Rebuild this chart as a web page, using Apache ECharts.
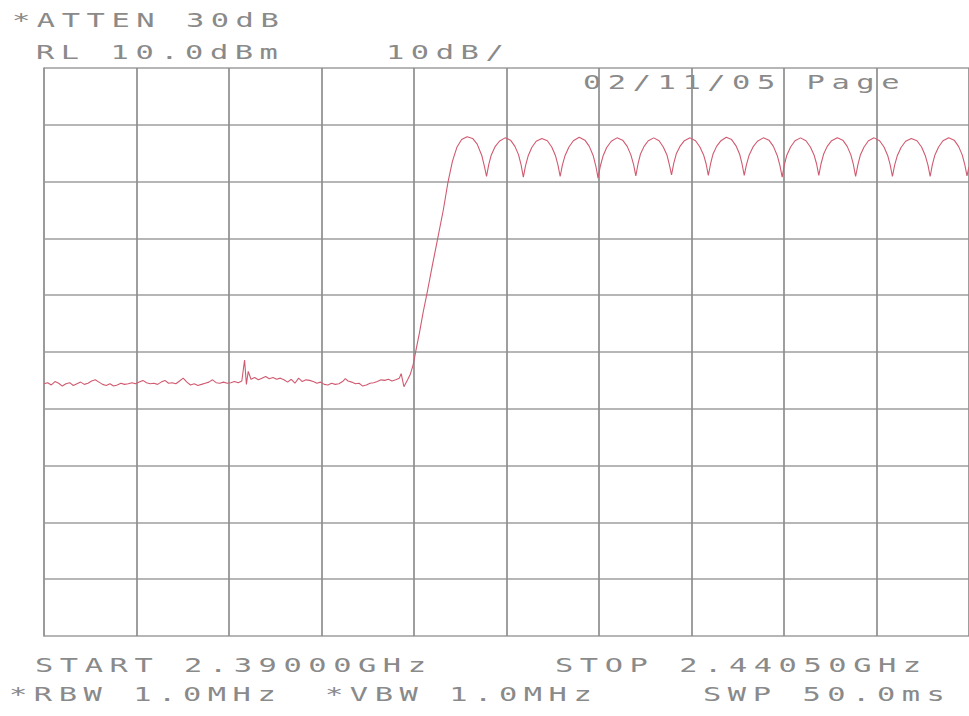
<!DOCTYPE html>
<html>
<head>
<meta charset="utf-8">
<script src="https://cdn.jsdelivr.net/npm/echarts@6/dist/echarts.min.js"></script>
<style>
  html, body { margin: 0; padding: 0; background: #ffffff; }
  #chart { width: 969px; height: 716px; }
  #chart text { letter-spacing: 4.1px; }
</style>
</head>
<body>
<div id="chart"></div>
<script>
// ---- Data (frequency MHz, level dBm) ----
const noiseFloor = [
  [2390.0,-45.6],[2390.2,-45.4],[2390.4,-45.8],[2390.6,-45.2],[2390.8,-45.5],[2391.0,-46.0],
  [2391.2,-45.6],[2391.4,-45.4],[2391.6,-45.9],[2391.8,-45.6],[2392.0,-45.3],[2392.2,-45.7],
  [2392.4,-45.5],[2392.6,-45.1],[2392.8,-44.9],[2393.0,-45.3],[2393.2,-45.7],[2393.4,-45.9],
  [2393.6,-45.6],[2393.8,-46.0],[2394.0,-45.8],[2394.2,-45.5],[2394.4,-45.7],[2394.6,-45.6],
  [2394.8,-45.4],[2395.0,-45.6],[2395.2,-45.3],[2395.4,-45.0],[2395.6,-45.4],[2395.8,-45.6],
  [2396.0,-45.5],[2396.2,-45.7],[2396.4,-45.3],[2396.6,-45.0],[2396.8,-45.5],[2397.0,-45.4],
  [2397.2,-45.6],[2397.4,-45.1],[2397.6,-44.6],[2397.8,-45.3],[2398.0,-45.8],[2398.2,-45.6],
  [2398.4,-45.9],[2398.6,-45.7],[2398.8,-45.5],[2399.0,-45.3],[2399.2,-44.9],[2399.4,-45.4],
  [2399.6,-45.5],[2399.8,-45.3],[2400.0,-45.5],[2400.2,-45.4],[2400.4,-45.2],[2400.6,-45.4],
  [2400.8,-45.1],[2400.95,-41.4],[2401.05,-45.7],[2401.15,-43.4],[2401.3,-44.8],[2401.5,-44.5],
  [2401.7,-44.9],[2401.9,-44.6],[2402.1,-44.3],[2402.3,-44.7],[2402.5,-44.5],[2402.7,-44.8],
  [2402.9,-44.6],[2403.1,-44.9],[2403.3,-45.3],[2403.5,-44.8],[2403.7,-45.5],[2403.9,-44.6],
  [2404.1,-45.2],[2404.3,-44.9],[2404.5,-45.0],[2404.7,-45.2],[2404.9,-45.5],[2405.1,-45.3],
  [2405.3,-45.7],[2405.5,-45.8],[2405.7,-45.5],[2405.9,-45.7],[2406.1,-45.6],[2406.3,-45.2],
  [2406.45,-44.7],[2406.6,-45.1],[2406.8,-45.3],[2407.0,-45.6],[2407.2,-45.5],[2407.4,-46.0],
  [2407.6,-45.8],[2407.8,-45.5],[2408.0,-45.4],[2408.2,-45.2],[2408.4,-44.9],[2408.6,-45.0],
  [2408.8,-44.8],[2409.0,-45.1],[2409.2,-44.9],[2409.4,-44.6],[2409.5,-43.8],[2409.65,-46.1],
  [2409.85,-44.9]
];
const risingEdge = [
  [2410.0,-43.9],[2410.15,-42.3],[2410.3,-39.8],[2410.5,-36.6],[2410.7,-33.0],[2410.95,-29.0],
  [2411.2,-24.8],[2411.5,-19.9],[2411.8,-15.0],[2412.05,-10.2],[2412.3,-6.4],[2412.55,-3.9],
  [2412.8,-2.6],[2413.1,-2.1],[2413.4,-2.4],[2413.65,-3.4],[2413.9,-5.4],[2414.05,-7.4]
];
const passband = [
  [2414.16,-9.1],
  [2414.28,-7.0],[2414.42,-5.3],[2414.62,-3.9],[2414.86,-2.9],[2415.17,-2.3],[2415.47,-2.7],[2415.71,-3.8],[2415.91,-5.3],[2416.05,-7.1],
  [2416.17,-9.2],
  [2416.29,-7.2],[2416.43,-5.5],[2416.63,-4.0],[2416.87,-2.9],[2417.18,-2.4],[2417.48,-2.8],[2417.72,-3.9],[2417.92,-5.4],[2418.06,-7.1],
  [2418.18,-9.1],
  [2418.30,-7.1],[2418.45,-5.4],[2418.66,-3.9],[2418.90,-2.8],[2419.22,-2.2],[2419.53,-2.7],[2419.77,-3.8],[2419.98,-5.4],[2420.13,-7.3],
  [2420.25,-9.4],
  [2420.37,-7.3],[2420.52,-5.5],[2420.72,-4.0],[2420.97,-2.9],[2421.28,-2.3],[2421.59,-2.7],[2421.84,-3.8],[2422.04,-5.3],[2422.19,-7.0],
  [2422.31,-9.0],
  [2422.43,-6.9],[2422.56,-5.2],[2422.76,-3.8],[2422.99,-2.8],[2423.29,-2.3],[2423.58,-2.8],[2423.81,-3.9],[2424.01,-5.3],[2424.14,-7.0],
  [2424.26,-8.8],
  [2424.38,-6.8],[2424.52,-5.1],[2424.72,-3.8],[2424.96,-2.8],[2425.27,-2.3],[2425.57,-2.8],[2425.81,-3.9],[2426.01,-5.3],[2426.15,-6.9],
  [2426.27,-8.9],
  [2426.39,-6.9],[2426.52,-5.2],[2426.72,-3.8],[2426.96,-2.8],[2427.25,-2.2],[2427.54,-2.6],[2427.78,-3.7],[2427.98,-5.2],[2428.11,-6.9],
  [2428.23,-8.9],
  [2428.35,-7.0],[2428.50,-5.3],[2428.71,-3.9],[2428.95,-2.9],[2429.27,-2.3],[2429.58,-2.7],[2429.82,-3.8],[2430.03,-5.4],[2430.18,-7.2],
  [2430.30,-9.2],
  [2430.42,-7.0],[2430.56,-5.3],[2430.76,-3.9],[2431.00,-2.8],[2431.30,-2.3],[2431.60,-2.8],[2431.84,-3.9],[2432.04,-5.3],[2432.18,-6.9],
  [2432.30,-8.9],
  [2432.42,-6.9],[2432.56,-5.2],[2432.76,-3.8],[2433.00,-2.8],[2433.31,-2.3],[2433.61,-2.7],[2433.85,-3.8],[2434.05,-5.3],[2434.19,-7.0],
  [2434.31,-9.1],
  [2434.43,-7.1],[2434.57,-5.3],[2434.77,-3.9],[2435.01,-2.8],[2435.32,-2.3],[2435.62,-2.8],[2435.86,-3.9],[2436.06,-5.4],[2436.20,-7.1],
  [2436.32,-9.1],
  [2436.44,-7.1],[2436.59,-5.4],[2436.79,-4.0],[2437.04,-2.9],[2437.35,-2.4],[2437.66,-2.8],[2437.91,-3.9],[2438.11,-5.4],[2438.26,-7.1],
  [2438.38,-9.1],
  [2438.50,-7.0],[2438.64,-5.3],[2438.84,-3.9],[2439.08,-2.8],[2439.39,-2.3],[2439.69,-2.7],[2439.93,-3.8],[2440.13,-5.3],[2440.27,-7.0],
  [2440.39,-9.0],
  [2440.5,-7.4]
];

// ---- Axis settings ----
const freqStartMHz = 2390.0;
const freqStopMHz = 2440.5;
const refLevelDbm = 10;
const dbPerDiv = 10;
const divisions = 10;

// ---- Annotation texts ----
const headerTexts = ['*ATTEN 30dB', 'RL 10.0dBm', '10dB/', '02/11/05 Page'];
const footerTexts = ['START 2.39000GHz', 'STOP 2.44050GHz', '*RBW 1.0MHz', '*VBW 1.0MHz', 'SWP 50.0ms'];

const trace = noiseFloor.concat(risingEdge, passband);

const chart = echarts.init(document.getElementById('chart'), null, { renderer: 'svg' });

const textColor = '#8a8a8a';
function label(text, x, y) {
  return {
    type: 'text', x: x, y: y, scaleX: 1.6, silent: true,
    style: {
      text: text, fontFamily: 'DejaVu Sans Mono', fontSize: 19,
      fill: textColor, verticalAlign: 'middle', align: 'left'
    }
  };
}

const option = {
  animation: false,
  backgroundColor: '#ffffff',
  grid: { left: 44, top: 68, width: 930, height: 568 },
  xAxis: [
    {
      type: 'value', min: freqStartMHz, max: freqStopMHz, show: false,
      splitLine: { show: false }
    },
    {
      type: 'value', min: 0, max: divisions, interval: 1,
      axisLine: { show: false }, axisTick: { show: false }, axisLabel: { show: false },
      splitLine: { show: true, lineStyle: { color: '#8e8e8e', width: 1.7 } }
    }
  ],
  yAxis: {
    type: 'value',
    min: refLevelDbm - dbPerDiv * divisions, max: refLevelDbm, interval: dbPerDiv,
    axisLine: { show: true, lineStyle: { color: '#9a9a9a', width: 1.7 } },
    axisTick: { show: false }, axisLabel: { show: false },
    splitLine: { show: true, lineStyle: { color: '#9e9e9e', width: 1.7 } }
  },
  series: [{
    type: 'line', xAxisIndex: 0, data: trace, showSymbol: false, smooth: false,
    lineStyle: { color: '#d05a70', width: 1.1 }
  }],
  graphic: [
    label(headerTexts[0], 12, 20),
    label(headerTexts[1], 36, 52),
    label(headerTexts[2], 386, 52),
    label(headerTexts[3], 583, 82),
    label(footerTexts[0], 35, 665),
    label(footerTexts[1], 555, 665),
    label(footerTexts[2], 9, 694),
    label(footerTexts[3], 325, 694),
    label(footerTexts[4], 703, 694)
  ]
};
chart.setOption(option);
</script>
</body>
</html>
